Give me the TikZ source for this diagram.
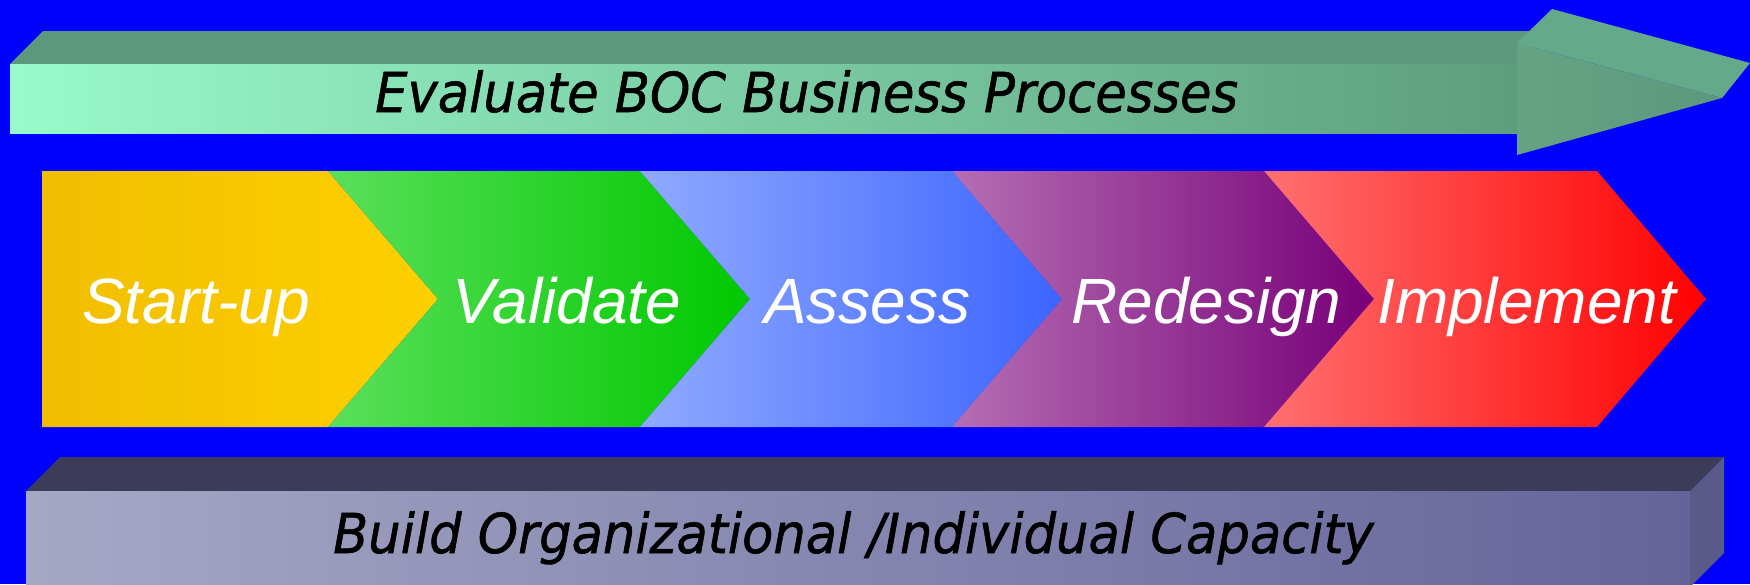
\documentclass[tikz,border=0pt]{standalone}
\usepackage{fontspec}
\setmainfont{Liberation Sans}
\newfontfamily\barfont[FakeStretch=0.93,FakeBold=1]{DejaVu Sans}
\usepackage{xcolor}
\usepackage{tikz}
\usetikzlibrary{positioning,calc}

\definecolor{bgblue}{HTML}{0000FF}
\definecolor{evalL}{HTML}{98FACA}
\definecolor{evalM}{HTML}{84DCB0}
\definecolor{evalR}{HTML}{5E9E7E}
\definecolor{evalTop}{HTML}{5C987C}
\definecolor{headTop}{HTML}{64AA8A}
\definecolor{buildL}{HTML}{A5A8C5}
\definecolor{buildR}{HTML}{64649A}
\definecolor{buildTop}{HTML}{3C3C5A}
\definecolor{buildSide}{HTML}{5A5A88}
\definecolor{startL}{HTML}{F0BE00}
\definecolor{startR}{HTML}{FFD000}
\definecolor{validL}{HTML}{5ADF5A}
\definecolor{validR}{HTML}{00C800}
\definecolor{assessL}{HTML}{90AAFF}
\definecolor{assessR}{HTML}{3C64FF}
\definecolor{redesL}{HTML}{B46EB4}
\definecolor{redesR}{HTML}{780078}
\definecolor{implL}{HTML}{FF7070}
\definecolor{implR}{HTML}{FF0000}

\tikzset{
    steplabel/.style={text=white, inner sep=0pt, anchor=base west,
        font=\fontsize{64}{64}\selectfont\itshape},
    barlabel/.style={text=black, inner sep=0pt, anchor=base west,
        font=\barfont\fontsize{55}{55}\selectfont\itshape},
}

\begin{document}
\begin{tikzpicture}[x=1pt,y=-1pt]
    \clip (0,0) rectangle (1750,584);
    \fill[bgblue] (0,0) rectangle (1750,584);

    % Evaluate arrow
    \fill[evalTop] (10,64) -- (43,31) -- (1550,31) -- (1517,64) -- cycle;
    \shade[left color=evalL, middle color=evalM, right color=evalR] (10,64) rectangle (1517,133);
    \shade[left color=evalR!95!white, right color=evalTop] (1517,43) -- (1722,98) -- (1517,155) -- cycle;
    \fill[headTop] (1517,43) -- (1552,9) -- (1750,63) -- (1722,98) -- cycle;
    \node[barlabel] (evaluate) at (375,112) {Evaluate BOC Business Processes};

    % Start-up
    \shade[left color=startL, right color=startR] (42,171) -- (328,171) -- (438,299) -- (328,427) -- (42,427) -- cycle;
    \node[steplabel] (startup) at (82,323) {Start-up};

    % Validate
    \shade[left color=validL, right color=validR] (328,171) -- (640,171) -- (750,299) -- (640,427) -- (328,427) -- (438,299) -- cycle;
    \node[steplabel] (validate) at (452,323) {Validate};

    % Assess
    \shade[left color=assessL, right color=assessR] (640,171) -- (952,171) -- (1062,299) -- (952,427) -- (640,427) -- (750,299) -- cycle;
    \node[steplabel] (assess) at (764,323) {Assess};

    % Redesign
    \shade[left color=redesL, right color=redesR] (952,171) -- (1264,171) -- (1374,299) -- (1264,427) -- (952,427) -- (1062,299) -- cycle;
    \node[steplabel] (redesign) at (1071,323) {Redesign};

    % Implement
    \shade[left color=implL, right color=implR] (1264,171) -- (1597,171) -- (1706,299) -- (1597,427) -- (1264,427) -- (1374,299) -- cycle;
    \node[steplabel] (implement) at (1377,323) {Implement};

    % Build box
    \fill[buildTop] (26,491) -- (60,457) -- (1724,457) -- (1690,491) -- cycle;
    \fill[buildSide] (1690,491) -- (1724,457) -- (1724,553) -- (1690,587) -- cycle;
    \shade[left color=buildL, right color=buildR] (26,491) rectangle (1690,600);
    \node[barlabel] (build) at (333,553) {Build Organizational /Individual Capacity};
\end{tikzpicture}
\end{document}
